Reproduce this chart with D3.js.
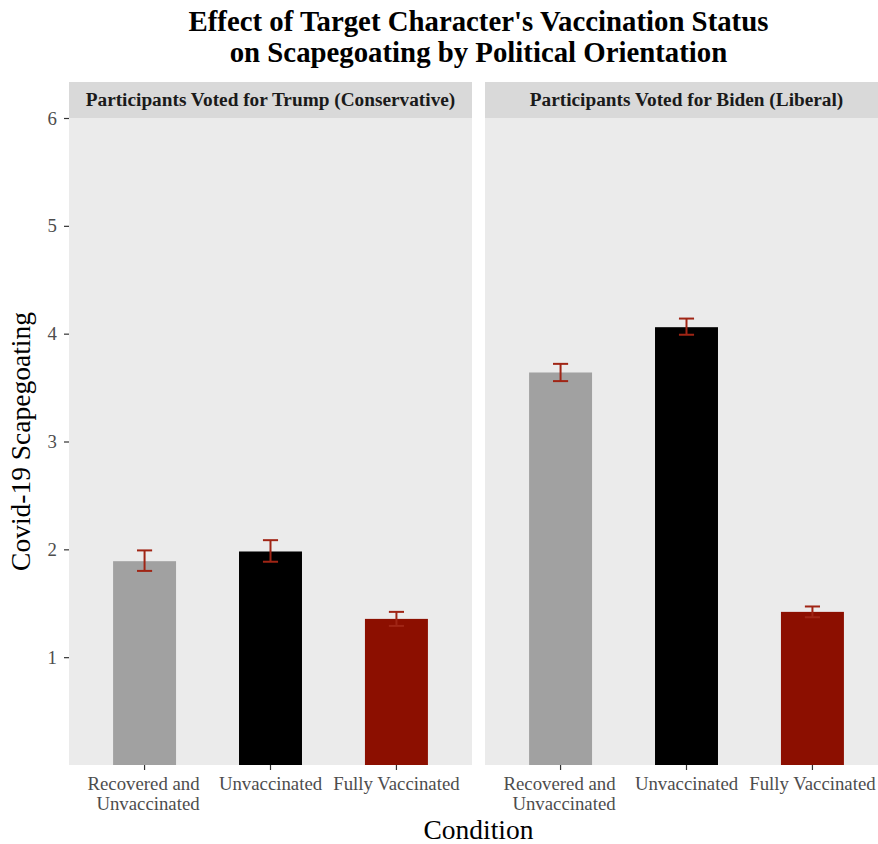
<!DOCTYPE html>
<html>
<head>
<meta charset="utf-8">
<script src="https://cdn.jsdelivr.net/npm/d3@7/dist/d3.min.js"></script>
<style>
  html, body { margin: 0; padding: 0; background: #ffffff; }
  svg { display: block; }
  text { font-family: "Liberation Serif", "Times New Roman", serif; }
</style>
</head>
<body>
<svg id="chart" width="878" height="844"></svg>
<script>
// ---- Data ----
const categories = ["Recovered and\nUnvaccinated", "Unvaccinated", "Fully Vaccinated"];
const panelTitles = ["Participants Voted for Trump (Conservative)", "Participants Voted for Biden (Liberal)"];
const trumpMeans = [1.89, 1.98, 1.355];
const trumpLower = [1.80, 1.885, 1.29];
const trumpUpper = [1.99, 2.085, 1.42];
const bidenMeans = [3.64, 4.06, 1.42];
const bidenLower = [3.56, 3.99, 1.37];
const bidenUpper = [3.72, 4.14, 1.47];
const yTicks = [1, 2, 3, 4, 5, 6];
const barColors = ["#a1a1a1", "#000000", "#8c0f00"];
const titleLines = ["Effect of Target Character's Vaccination Status", "on Scapegoating by Political Orientation"];
const xTitle = "Condition";
const yTitle = "Covid-19 Scapegoating";

// ---- Layout ----
const svg = d3.select("#chart");
const panelTop = 118, panelBottom = 765, stripTop = 82;
const panelX = [[69, 472], [485, 888]];
const errColor = "#a02515";

const y = d3.scaleLinear().domain([0, 6]).range([panelBottom, panelTop]);

const panelData = [
  { title: panelTitles[0], means: trumpMeans, lo: trumpLower, hi: trumpUpper },
  { title: panelTitles[1], means: bidenMeans, lo: bidenLower, hi: bidenUpper }
];

panelData.forEach((pd, pi) => {
  const [x0, x1] = panelX[pi];
  const x = d3.scaleBand().domain(categories).range([x0, x1])
    .paddingInner(0.5).paddingOuter(0.35);
  const g = svg.append("g");

  // panel background
  g.append("rect").attr("x", x0).attr("y", panelTop)
    .attr("width", x1 - x0).attr("height", panelBottom - panelTop)
    .attr("fill", "#ebebeb");
  // strip
  g.append("rect").attr("x", x0).attr("y", stripTop)
    .attr("width", x1 - x0).attr("height", panelTop - stripTop)
    .attr("fill", "#d9d9d9");
  g.append("text").attr("x", (x0 + x1) / 2).attr("y", (stripTop + panelTop) / 2 + 6)
    .attr("text-anchor", "middle").attr("font-weight", "bold")
    .attr("font-size", "19.3px").attr("fill", "#1a1a1a")
    .text(pd.title);

  const rows = categories.map((c, i) => ({ c, m: pd.means[i], lo: pd.lo[i], hi: pd.hi[i], col: barColors[i] }));

  // bars
  g.selectAll("rect.bar").data(rows).enter().append("rect")
    .attr("class", "bar")
    .attr("x", d => x(d.c)).attr("width", x.bandwidth())
    .attr("y", d => y(d.m)).attr("height", d => y(0) - y(d.m))
    .attr("fill", d => d.col);

  // error bars
  const capW = x.step() * 0.12;
  const eb = g.selectAll("g.eb").data(rows).enter().append("g")
    .attr("stroke", errColor).attr("stroke-width", 2);
  eb.append("line")
    .attr("x1", d => x(d.c) + x.bandwidth() / 2).attr("x2", d => x(d.c) + x.bandwidth() / 2)
    .attr("y1", d => y(d.lo)).attr("y2", d => y(d.hi));
  eb.append("line")
    .attr("x1", d => x(d.c) + x.bandwidth() / 2 - capW / 2).attr("x2", d => x(d.c) + x.bandwidth() / 2 + capW / 2)
    .attr("y1", d => y(d.hi)).attr("y2", d => y(d.hi));
  eb.append("line")
    .attr("x1", d => x(d.c) + x.bandwidth() / 2 - capW / 2).attr("x2", d => x(d.c) + x.bandwidth() / 2 + capW / 2)
    .attr("y1", d => y(d.lo)).attr("y2", d => y(d.lo));

  // x axis
  const xa = g.append("g").attr("transform", `translate(0,${panelBottom})`)
    .call(d3.axisBottom(x).tickSize(5).tickSizeOuter(0).tickFormat(""));
  xa.select(".domain").remove();
  xa.selectAll(".tick line").attr("stroke", "#333333").attr("stroke-width", 1.2);
  xa.selectAll(".tick").each(function(d) {
    const lines = d.split("\n");
    const t = d3.select(this).append("text")
      .attr("font-size", "18.8px").attr("fill", "#4d4d4d")
      .attr("y", 25);
    if (lines.length > 1) {
      t.attr("text-anchor", "end");
      const tmp = d3.select(this).append("text").attr("font-size", "18.8px").text(lines[0]);
      const w = Math.max(...lines.map(l => { tmp.text(l); return tmp.node().getComputedTextLength(); }));
      tmp.remove();
      lines.forEach((l, li) => {
        t.append("tspan").attr("x", w / 2 - 1).attr("dy", li === 0 ? 0 : 20).text(l);
      });
    } else {
      t.attr("text-anchor", "middle").attr("x", 0).text(lines[0]);
    }
  });
});

// y axis
const ya = svg.append("g").attr("transform", `translate(${panelX[0][0]},0)`)
  .call(d3.axisLeft(y).tickValues(yTicks).tickFormat(d3.format("d")).tickSize(5).tickPadding(7));
ya.select(".domain").remove();
ya.selectAll(".tick line").attr("stroke", "#333333").attr("stroke-width", 1.2);
ya.selectAll(".tick text").attr("font-size", "18.8px").attr("fill", "#4d4d4d")
  .attr("font-family", "Liberation Serif, Times New Roman, serif");

// titles
const cx = (panelX[0][0] + panelX[1][1]) / 2;
svg.append("text").attr("x", cx).attr("y", 31).attr("text-anchor", "middle")
  .attr("font-weight", "bold").attr("font-size", "28.8px").attr("fill", "#000")
  .text(titleLines[0]);
svg.append("text").attr("x", cx).attr("y", 62).attr("text-anchor", "middle")
  .attr("font-weight", "bold").attr("font-size", "28.8px").attr("fill", "#000")
  .text(titleLines[1]);

svg.append("text").attr("x", cx).attr("y", 839).attr("text-anchor", "middle")
  .attr("font-size", "27.5px").attr("fill", "#000").text(xTitle);

svg.append("text").attr("transform", `translate(30,${(panelTop + panelBottom) / 2}) rotate(-90)`)
  .attr("text-anchor", "middle").attr("font-size", "27.5px").attr("fill", "#000").text(yTitle);
</script>
</body>
</html>
